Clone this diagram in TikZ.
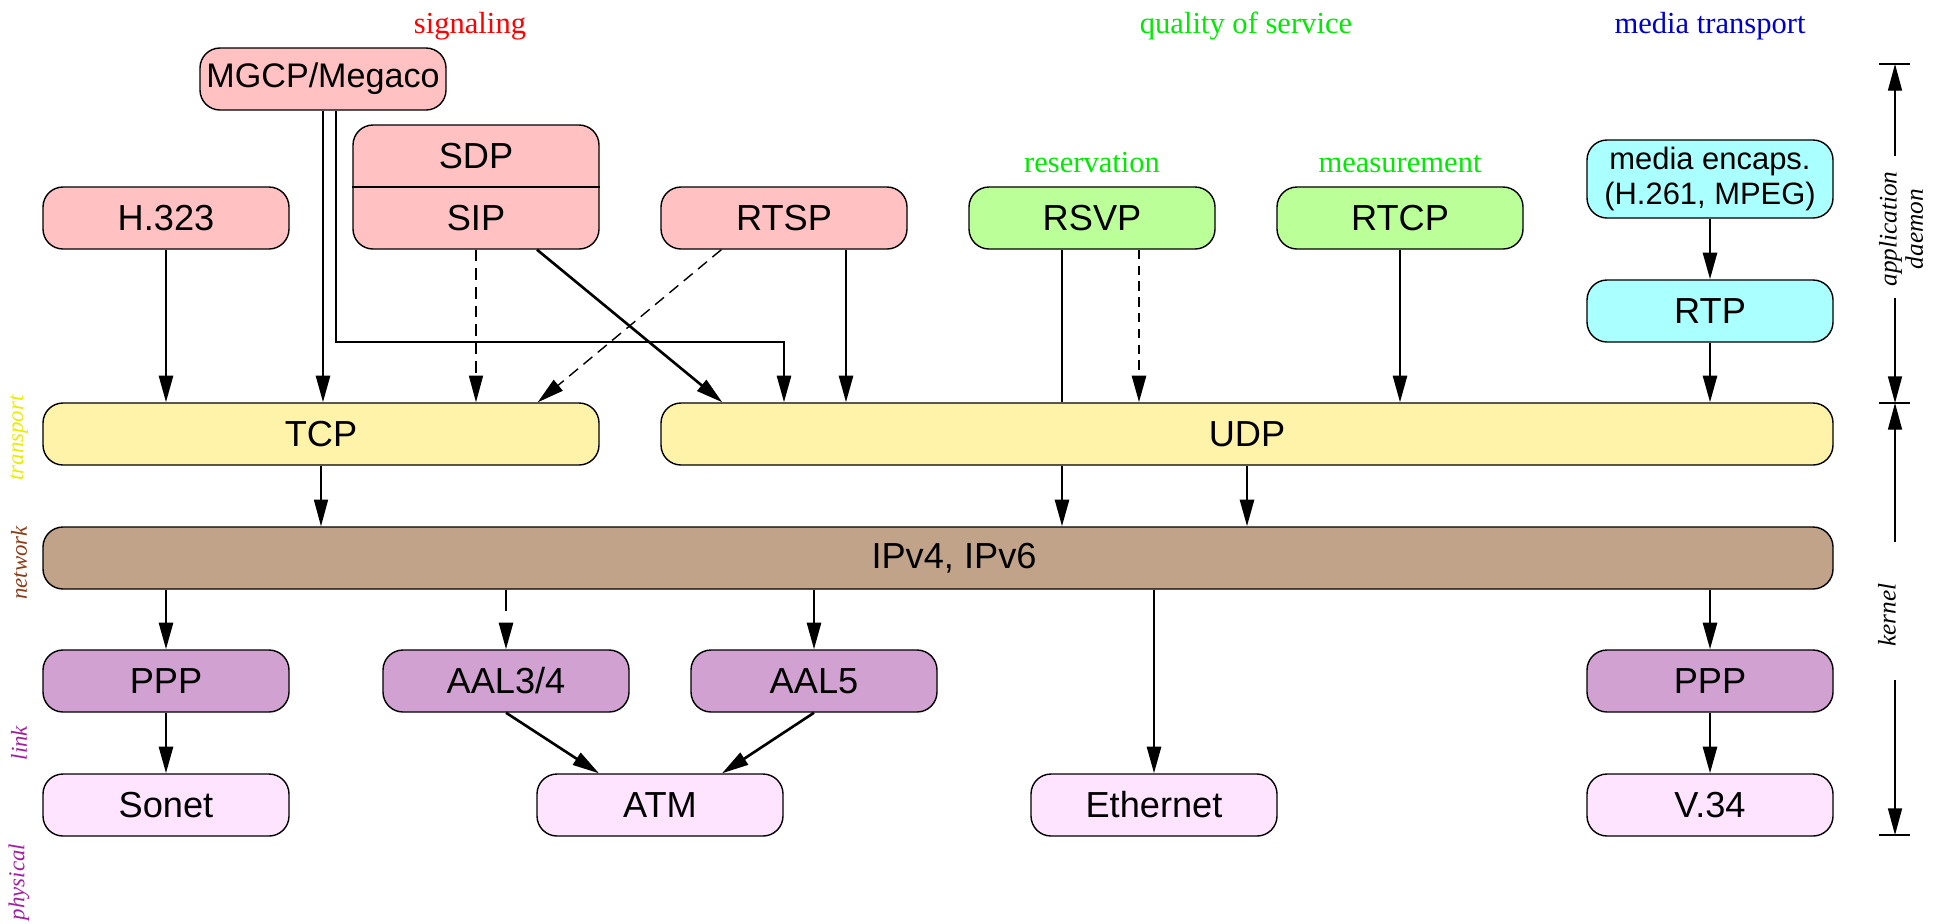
\documentclass[tikz,border=0pt]{standalone}
\usepackage{fontspec}
\setmainfont{Liberation Serif}
\setsansfont{Liberation Sans}
\usetikzlibrary{arrows.meta,calc,positioning}

\definecolor{sigfill}{RGB}{255,193,193}
\definecolor{qosfill}{RGB}{187,255,153}
\definecolor{medfill}{RGB}{170,255,255}
\definecolor{trfill}{RGB}{255,243,170}
\definecolor{netfill}{RGB}{193,163,137}
\definecolor{linkfill}{RGB}{209,161,209}
\definecolor{phyfill}{RGB}{255,228,255}
\definecolor{sigtext}{RGB}{255,0,0}
\definecolor{qostext}{RGB}{0,235,0}
\definecolor{medtext}{RGB}{0,0,205}
\definecolor{trtext}{RGB}{235,235,0}
\definecolor{nettext}{RGB}{140,60,20}
\definecolor{linktext}{RGB}{160,32,160}

\tikzset{
	box/.style={draw, line width=0.4pt, rounded corners=0.2cm, minimum width=2.46cm,
		minimum height=0.62cm, inner sep=0pt, align=center,
		font={\sffamily\fontsize{10.3pt}{10pt}\selectfont}},
	sigbox/.style={box, fill=sigfill},
	qosbox/.style={box, fill=qosfill},
	medbox/.style={box, fill=medfill},
	trbox/.style={box, fill=trfill},
	netbox/.style={box, fill=netfill},
	linkbox/.style={box, fill=linkfill},
	phybox/.style={box, fill=phyfill},
	arr/.style={-{Triangle[length=7.6pt,width=4pt]}, line width=0.75pt},
	thinarr/.style={-{Triangle[length=7.6pt,width=4pt]}, line width=0.4pt},
	grp/.style={anchor=base, inner sep=0pt, font={\fontsize{8.7pt}{10pt}\selectfont}},
	side/.style={rotate=90, inner sep=0pt, align=center,
		font={\itshape\fontsize{7.2pt}{7.5pt}\selectfont}},
	layer/.style={side, font={\itshape\fontsize{6.5pt}{7pt}\selectfont}}
}

\begin{document}
\begin{tikzpicture}
	\useasboundingbox (0,0) rectangle (19.46,-9.23);

	% group titles
	\node (tsig) [grp, text=sigtext] at (4.70,-0.33) {signaling};
	\node (tqos) [grp, text=qostext] at (12.46,-0.33) {quality of service};
	\node (tmed) [grp, text=medtext] at (17.10,-0.33) {media transport};
	\node (tres) [grp, text=qostext] at (10.92,-1.72) {reservation};
	\node (tmeas) [grp, text=qostext] at (14.00,-1.72) {measurement};

	% application protocols
	\node (mgcp) [sigbox, font={\sffamily\fontsize{9.7pt}{10pt}\selectfont}] at (3.23,-0.79) {MGCP/Megaco};
	\node (h323) [sigbox] at (1.66,-2.18) {H.323};
	\node (sdpsip) [sigbox, minimum height=1.24cm] at (4.76,-1.87) {};
	\draw[line width=0.4pt] (sdpsip.west) -- (sdpsip.east);
	\node (sdp) [box, draw=none] at (4.76,-1.56) {SDP};
	\node (sip) [box, draw=none] at (4.76,-2.18) {SIP};
	\node (rtsp) [sigbox] at (7.84,-2.18) {RTSP};
	\node (rsvp) [qosbox] at (10.92,-2.18) {RSVP};
	\node (rtcp) [qosbox] at (14.00,-2.18) {RTCP};
	\node (encaps) [medbox, minimum height=0.78cm, font={\sffamily\fontsize{8.8pt}{10pt}\selectfont}] at (17.10,-1.79) {media encaps.\\(H.261, MPEG)};
	\node (rtp) [medbox] at (17.10,-3.11) {RTP};

	% transport, network
	\node (tcp) [trbox, minimum width=5.56cm] at (3.21,-4.34) {TCP};
	\node (udp) [trbox, minimum width=11.72cm] at (12.47,-4.34) {UDP};
	\node (ip) [netbox, minimum width=17.90cm] at (9.38,-5.58) {\hspace*{0.32cm}IPv4, IPv6};

	% link, physical
	\node (ppp1) [linkbox] at (1.66,-6.81) {PPP};
	\node (aal34) [linkbox] at (5.06,-6.81) {AAL3/4};
	\node (aal5) [linkbox] at (8.14,-6.81) {AAL5};
	\node (ppp2) [linkbox] at (17.10,-6.81) {PPP};
	\node (sonet) [phybox] at (1.66,-8.05) {Sonet};
	\node (atm) [phybox] at (6.60,-8.05) {ATM};
	\node (eth) [phybox] at (11.54,-8.05) {Ethernet};
	\node (v34) [phybox] at (17.10,-8.05) {V.34};

	% layer names
	\node (ltr) [layer, text=trtext] at (0.19,-4.38) {transport};
	\node (lnet) [layer, text=nettext] at (0.19,-5.63) {network};
	\node (llink) [layer, text=linktext] at (0.19,-7.43) {link};
	\node (lphy) [layer, text=linktext] at (0.19,-8.82) {physical};

	% application -> transport
	\coordinate (turn) at (7.84,-3.42);
	\draw[arr] (h323.south) -- (h323.south |- tcp.north);
	\draw[arr] (mgcp.south) -- (mgcp.south |- tcp.north);
	\draw[arr] ([xshift=0.13cm]mgcp.south) |- (turn) -- (rtsp.south |- udp.north);
	\draw[thinarr, dash pattern=on 3.3pt off 2pt] (sdpsip.south) -- (sdpsip.south |- tcp.north);
	\draw[arr] ([xshift=0.61cm]sdpsip.south) -- ([xshift=0.62cm]udp.north west);
	\draw[thinarr, dash pattern=on 3.3pt off 2pt] ([xshift=0.61cm]rtsp.south west) -- ([xshift=-0.62cm]tcp.north east);
	\draw[arr] ([xshift=0.62cm]rtsp.south) -- ([xshift=0.62cm]rtsp.south |- udp.north);
	\draw[line width=0.75pt] ([xshift=-0.30cm]rsvp.south) -- ([xshift=-0.30cm]rsvp.south |- udp.north);
	\draw[arr, dash pattern=on 2.7pt off 1.8pt] ([xshift=0.47cm]rsvp.south) -- ([xshift=0.47cm]rsvp.south |- udp.north);
	\draw[arr] (rtcp.south) -- (rtcp.south |- udp.north);
	\draw[arr] (encaps.south) -- (rtp.north);
	\draw[arr] (rtp.south) -- (rtp.south |- udp.north);

	% transport -> network
	\draw[thinarr] (tcp.south) -- (tcp.south |- ip.north);
	\draw[arr] ([xshift=-0.30cm]rsvp.south |- udp.south) -- ([xshift=-0.30cm]rsvp.south |- ip.north);
	\draw[arr] (udp.south) -- (udp.south |- ip.north);

	% network -> link -> physical
	\draw[arr] (ppp1.north |- ip.south) -- (ppp1.north);
	\draw[arr, dash pattern=on 6pt off 6pt] (aal34.north |- ip.south) -- (aal34.north);
	\draw[arr] (aal5.north |- ip.south) -- (aal5.north);
	\draw[arr] (eth.north |- ip.south) -- (eth.north);
	\draw[arr] (ppp2.north |- ip.south) -- (ppp2.north);
	\draw[arr] (ppp1.south) -- (sonet.north);
	\draw[arr] (aal34.south) -- ([xshift=-0.61cm]atm.north);
	\draw[arr] (aal5.south) -- ([xshift=0.62cm]atm.north);
	\draw[arr] (ppp2.south) -- (v34.north);

	% user / kernel extent
	\coordinate (dtop) at (18.95,-0.64);
	\coordinate (dmid) at (18.95,-4.03);
	\coordinate (dbot) at (18.95,-8.35);
	\coordinate (a1) at (18.95,-1.56);
	\coordinate (a2) at (18.95,-2.98);
	\coordinate (k1) at (18.95,-5.42);
	\coordinate (k2) at (18.95,-6.80);
	\node (lapp) [side] at (19.01,-2.29) {application\\daemon};
	\node (lkern) [side] at (18.87,-6.15) {kernel};
	\foreach \t in {dtop,dmid,dbot}
		\draw[line width=0.4pt] ([xshift=-0.16cm]\t) -- ([xshift=0.15cm]\t);
	\draw[thinarr] (a1) -- (dtop);
	\draw[thinarr] (a2) -- (dmid);
	\draw[thinarr] (k1) -- (dmid);
	\draw[thinarr] (k2) -- (dbot);
\end{tikzpicture}
\end{document}
